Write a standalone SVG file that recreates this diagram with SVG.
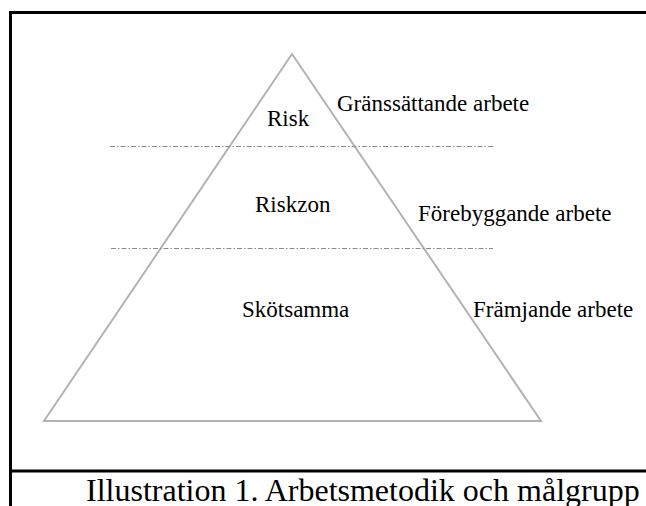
<svg xmlns="http://www.w3.org/2000/svg" width="646" height="506" viewBox="0 0 646 506">
<style>
.frame{stroke:#000;stroke-width:3;fill:none}
.tri{stroke:#b3b3b3;stroke-width:2;fill:none;stroke-linejoin:miter}
.dash{stroke:#8a8a8a;stroke-width:1;stroke-dasharray:5 2 1.5 2;fill:none}
.lbl{font-family:"Liberation Serif","Times New Roman",serif;font-size:23px;fill:#000}
.cap{font-family:"Liberation Serif","Times New Roman",serif;font-size:32px;fill:#000}
</style>
<rect width="646" height="506" fill="#fff"/>
<g id="frame">
<path class="frame" d="M10.5,506 V12.5 H646"/>
<path class="frame" d="M10.5,471 H646"/>
</g>
<g id="pyramid">
<polygon class="tri" points="292,54 44,421 541,421"/>
</g>
<g id="connectors">
<line class="dash" x1="110" y1="146.5" x2="493" y2="146.5"/>
<line class="dash" x1="111" y1="248.5" x2="493" y2="248.5"/>
</g>
<g id="node-risk"><text class="lbl" x="267" y="126">Risk</text></g>
<g id="node-riskzon"><text class="lbl" x="255" y="212">Riskzon</text></g>
<g id="node-skotsamma"><text class="lbl" x="242" y="317">Skötsamma</text></g>
<g id="label-gransattande"><text class="lbl" x="337" y="110.5">Gränssättande arbete</text></g>
<g id="label-forebyggande"><text class="lbl" x="418" y="221">Förebyggande arbete</text></g>
<g id="label-framjande"><text class="lbl" x="473" y="317">Främjande arbete</text></g>
<g id="caption"><text class="cap" x="86" y="501">Illustration 1. Arbetsmetodik och målgrupp</text></g>
</svg>
